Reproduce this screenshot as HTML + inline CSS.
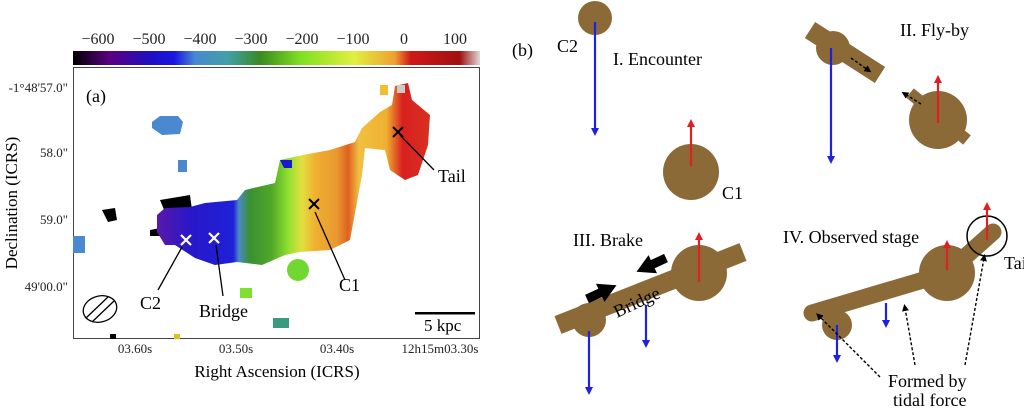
<!DOCTYPE html>
<html><head><meta charset="utf-8"><style>
html,body{margin:0;padding:0;background:#fff;}
svg{display:block;font-family:"Liberation Serif",serif;}
</style></head><body>
<svg width="1024" height="408" viewBox="0 0 1024 408" xmlns="http://www.w3.org/2000/svg">
<defs>
<linearGradient id="cb" x1="73" x2="480" y1="0" y2="0" gradientUnits="userSpaceOnUse">
<stop offset="0" stop-color="#000"/>
<stop offset="0.09" stop-color="#5a0080"/>
<stop offset="0.2" stop-color="#1a10c8"/>
<stop offset="0.25" stop-color="#1818e0"/>
<stop offset="0.3" stop-color="#4a88d0"/>
<stop offset="0.38" stop-color="#40a0a8"/>
<stop offset="0.46" stop-color="#3a8a20"/>
<stop offset="0.56" stop-color="#80e020"/>
<stop offset="0.69" stop-color="#e0f040"/>
<stop offset="0.79" stop-color="#f0a030"/>
<stop offset="0.83" stop-color="#d01818"/>
<stop offset="0.95" stop-color="#a01010"/>
<stop offset="1" stop-color="#e0d8d8"/>
</linearGradient>
<linearGradient id="gal" x1="157" x2="430" y1="0" y2="0" gradientUnits="userSpaceOnUse">
<stop offset="0" stop-color="#5a18a8"/>
<stop offset="0.12" stop-color="#2818c8"/>
<stop offset="0.28" stop-color="#2020d8"/>
<stop offset="0.3" stop-color="#4a88c8"/>
<stop offset="0.34" stop-color="#3a9030"/>
<stop offset="0.42" stop-color="#50a828"/>
<stop offset="0.48" stop-color="#90e030"/>
<stop offset="0.53" stop-color="#e0e040"/>
<stop offset="0.58" stop-color="#f0b030"/>
<stop offset="0.66" stop-color="#e89830"/>
<stop offset="0.7" stop-color="#e06020"/>
<stop offset="0.74" stop-color="#f0c040"/>
<stop offset="0.84" stop-color="#f0b030"/>
<stop offset="0.9" stop-color="#d82020"/>
<stop offset="1" stop-color="#d83020"/>
</linearGradient>
<marker id="mb" markerWidth="8" markerHeight="8" refX="4" refY="4" orient="auto" markerUnits="userSpaceOnUse"><path d="M0,0 L8,4 L0,8 z" fill="#2020e0"/></marker>
<marker id="mr" markerWidth="8" markerHeight="8" refX="4" refY="4" orient="auto" markerUnits="userSpaceOnUse"><path d="M0,0 L8,4 L0,8 z" fill="#e02020"/></marker>
<marker id="mk" markerWidth="7" markerHeight="7" refX="3" refY="3.5" orient="auto" markerUnits="userSpaceOnUse"><path d="M0,0 L7,3.5 L0,7 z" fill="#000"/></marker>
<marker id="mbig" markerWidth="18" markerHeight="20" refX="2" refY="10" orient="auto" markerUnits="userSpaceOnUse"><path d="M0,0 L18,10 L0,20 z" fill="#000"/></marker>
</defs>

<rect x="73" y="51" width="407" height="14" fill="url(#cb)"/>
<g font-size="16" text-anchor="middle" fill="#222">
<text x="98" y="44">−600</text><text x="149" y="44">−500</text><text x="200" y="44">−400</text>
<text x="251" y="44">−300</text><text x="302" y="44">−200</text><text x="353" y="44">−100</text>
<text x="404" y="44">0</text><text x="455" y="44">100</text>
</g>
<rect x="73.5" y="67.5" width="406" height="271" fill="#fff" stroke="#444" stroke-width="1"/>
<path d="M152,122 L160,116 L178,116 L183,122 L180,134 L162,135 L152,128 z" fill="#4a88d0"/>
<rect x="178" y="160" width="9" height="12" fill="#4a88d0"/>
<rect x="73" y="236" width="12" height="17" fill="#4a88d0"/>
<path d="M102,210 L115,208 L117,220 L108,222 z" fill="#000"/>
<path d="M160,200 L190,195 L192,210 L165,212 z" fill="#000"/>
<path d="M150,230 L160,228 L160,236 L150,236 z" fill="#000"/>
<path d="M157,215 L165,208 L190,207 L205,203 L237,200 L245,190 L275,183 L280,160 L303,155 L330,150 L355,142 L362,128 L380,112 L392,105 L395,86 L408,83 L412,100 L430,115 L428,145 L418,175 L405,180 L390,170 L385,150 L365,148 L362,175 L350,240 L330,250 L300,252 L285,255 L262,265 L237,262 L215,265 L195,258 L175,245 L165,245 L157,232 z" fill="url(#gal)"/>
<path d="M280,160 L292,160 L292,168 L284,168 z" fill="#1818d0"/>
<circle cx="298" cy="270" r="11" fill="#70d830"/>
<rect x="240" y="288" width="12" height="10" fill="#80e030"/>
<rect x="273" y="318" width="16" height="10" fill="#3a9a80"/>
<rect x="110" y="334" width="6" height="5" fill="#000"/>
<rect x="174" y="334" width="6" height="5" fill="#e0c020"/>
<rect x="380" y="85" width="8" height="10" fill="#f0c030"/>
<rect x="397" y="85" width="8" height="8" fill="#ccc"/>
<g stroke="#fff" stroke-width="2.2"><path d="M181,235 L191,245 M191,235 L181,245"/><path d="M209,233 L219,243 M219,233 L209,243"/></g>
<g stroke="#000" stroke-width="2"><path d="M309,199 L319,209 M319,199 L309,209"/><path d="M393,127 L403,137 M403,127 L393,137"/></g>
<g stroke="#000" stroke-width="1.3" fill="none">
<path d="M182,247 L158,290"/><path d="M216,245 L223,296"/><path d="M315,212 L345,280"/><path d="M400,135 L434,170"/>
<ellipse cx="100" cy="309" rx="17" ry="13" transform="rotate(-15 100 309)"/>
<path d="M86,318 L108,297 M92,322 L114,301"/>
</g>
<rect x="415" y="312" width="60" height="2.5" fill="#000"/>
<g font-size="18" fill="#000">
<text x="86" y="102">(a)</text>
<text x="140" y="309">C2</text>
<text x="199" y="317">Bridge</text>
<text x="339" y="291">C1</text>
<text x="438" y="182">Tail</text>
<text x="424" y="331" font-size="17">5 kpc</text>
</g>
<g font-size="13" fill="#222">
<text x="68" y="92" text-anchor="end">-1°48'57.0"</text>
<text x="68" y="157" text-anchor="end">58.0"</text>
<text x="68" y="224" text-anchor="end">59.0"</text>
<text x="68" y="291" text-anchor="end">49'00.0"</text>
<text x="135" y="353" text-anchor="middle">03.60s</text>
<text x="236" y="353" text-anchor="middle">03.50s</text>
<text x="337" y="353" text-anchor="middle">03.40s</text>
<text x="440" y="353" text-anchor="middle">12h15m03.30s</text>
</g>
<text x="277" y="377" font-size="17" text-anchor="middle">Right Ascension (ICRS)</text>
<text transform="translate(17,203) rotate(-90)" font-size="17" text-anchor="middle">Declination (ICRS)</text>

<g fill="#8b6a38">
<circle cx="595" cy="18" r="17"/>
<circle cx="691" cy="172" r="28"/>
<line x1="810" y1="30" x2="880" y2="75" stroke="#8b6a38" stroke-width="19"/>
<circle cx="833" cy="48" r="17"/>
<circle cx="938" cy="120" r="29"/>
<line x1="910" y1="93" x2="967" y2="140" stroke="#8b6a38" stroke-width="12"/>
<line x1="558" y1="325" x2="743" y2="252" stroke="#8b6a38" stroke-width="19"/>
<circle cx="589" cy="320" r="17"/>
<circle cx="699" cy="273" r="28"/>
<line x1="812" y1="313" x2="947" y2="273" stroke="#8b6a38" stroke-width="17" stroke-linecap="round"/>
<line x1="947" y1="273" x2="993" y2="232" stroke="#8b6a38" stroke-width="17" stroke-linecap="round"/>
<circle cx="837" cy="325" r="15"/>
<circle cx="947" cy="273" r="28"/>
</g>
<circle cx="987" cy="236" r="20" fill="none" stroke="#000" stroke-width="1.5"/>
<g stroke-width="2.2" fill="none">
<line x1="595" y1="22" x2="595" y2="132" stroke="#2020e0" marker-end="url(#mb)"/>
<line x1="691" y1="166" x2="691" y2="123" stroke="#e02020" marker-end="url(#mr)"/>
<line x1="831" y1="48" x2="831" y2="160" stroke="#2020e0" marker-end="url(#mb)"/>
<line x1="938" y1="123" x2="938" y2="79" stroke="#e02020" marker-end="url(#mr)"/>
<line x1="589" y1="331" x2="589" y2="391" stroke="#2020e0" marker-end="url(#mb)"/>
<line x1="646" y1="305" x2="646" y2="344" stroke="#2020e0" marker-end="url(#mb)"/>
<line x1="699" y1="282" x2="699" y2="236" stroke="#e02020" marker-end="url(#mr)"/>
<line x1="837" y1="325" x2="837" y2="359" stroke="#2020e0" marker-end="url(#mb)"/>
<line x1="886" y1="303" x2="886" y2="324" stroke="#2020e0" marker-end="url(#mb)"/>
<line x1="947" y1="270" x2="947" y2="244" stroke="#e02020" marker-end="url(#mr)"/>
<line x1="987" y1="240" x2="987" y2="206" stroke="#e02020" marker-end="url(#mr)"/>
</g>
<g stroke="#000" stroke-width="1.4" stroke-dasharray="3,2" fill="none">
<line x1="851" y1="58" x2="868" y2="70" marker-end="url(#mk)"/>
<line x1="921" y1="104" x2="905" y2="94" marker-end="url(#mk)"/>
<line x1="880" y1="377" x2="819" y2="316" marker-end="url(#mk)"/>
<line x1="915" y1="365" x2="905" y2="308" marker-end="url(#mk)"/>
<line x1="965" y1="365" x2="984" y2="258" marker-end="url(#mk)"/>
</g>
<g stroke="#000" stroke-width="9" fill="none">
<line x1="587" y1="299" x2="602" y2="292" marker-end="url(#mbig)"/>
<line x1="666" y1="258" x2="651" y2="265" marker-end="url(#mbig)"/>
</g>
<g font-size="18" fill="#000">
<text x="512" y="56">(b)</text>
<text x="557" y="52">C2</text>
<text x="613" y="65">I. Encounter</text>
<text x="722" y="199">C1</text>
<text x="900" y="36">II. Fly-by</text>
<text x="573" y="246">III. Brake</text>
<text transform="translate(617,318) rotate(-25)">Bridge</text>
<text x="783" y="243">IV. Observed stage</text>
<text x="1004" y="269">Tail</text>
<text x="888" y="387">Formed by</text>
<text x="893" y="406">tidal force</text>
</g>
</svg>
</body></html>
